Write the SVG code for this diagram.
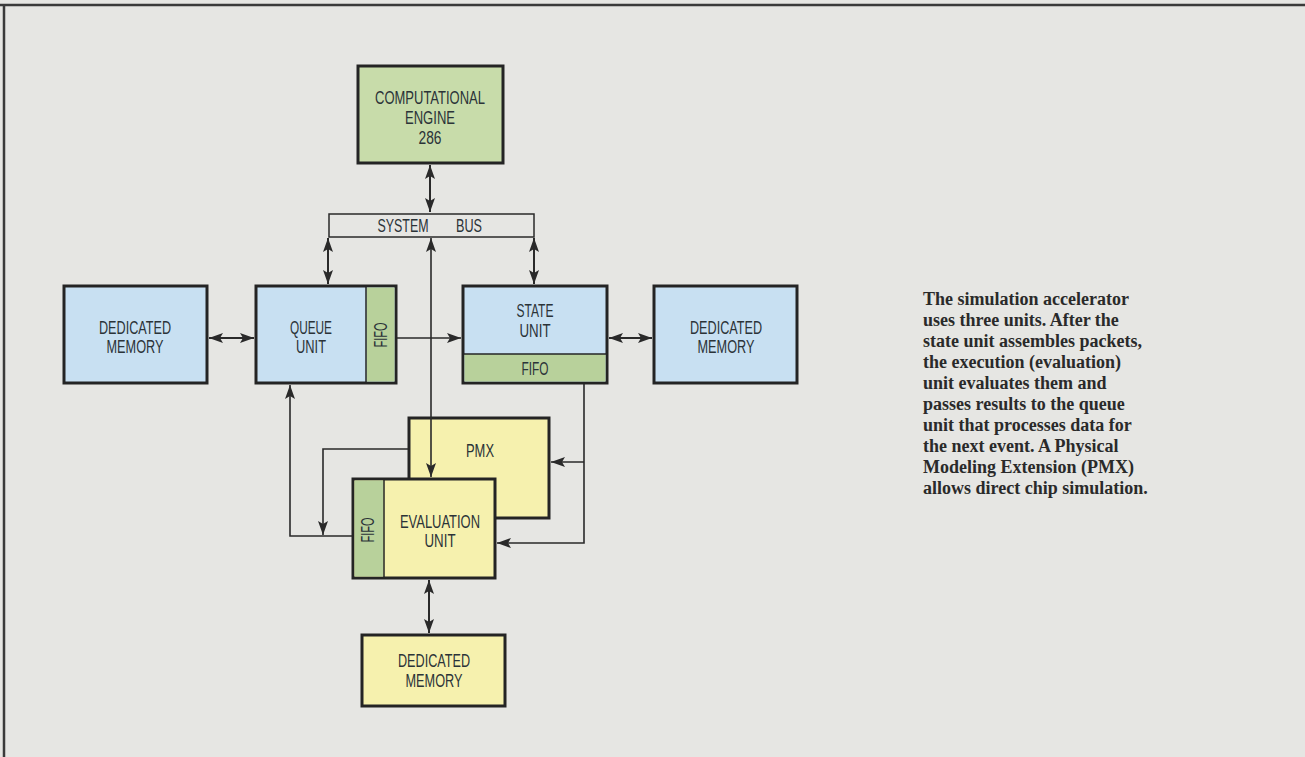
<svg xmlns="http://www.w3.org/2000/svg" width="1305" height="757" viewBox="0 0 1305 757">
<style>
.bx{stroke:#242424;stroke-width:3}
.blue{fill:#c8e0f2}
.grn{fill:#c8dcaa}
.fifo{fill:#b8d19b}
.yel{fill:#f6f1ae}
.sep{stroke:#242424;stroke-width:1.5;fill:none}
.t{font-family:"Liberation Sans",Arial,sans-serif;font-size:18px;fill:#2b3338;text-anchor:middle}
.c{stroke:#2a2a2a;stroke-width:1.6;fill:none}
.d{stroke:#2a2a2a;stroke-width:2;fill:none}
.cap{font-family:"Liberation Serif","Times New Roman",serif;font-weight:bold;font-size:18px;fill:#2a2a2a}
</style>
<defs>
<marker id="ah" viewBox="0 0 14 10" refX="14" refY="5" markerWidth="14" markerHeight="10" markerUnits="userSpaceOnUse" orient="auto-start-reverse">
<path d="M0,0 L14,5 L0,10 L3,5 z" fill="#2a2a2a"/>
</marker>
</defs>
<rect x="0" y="0" width="1305" height="757" fill="#e6e6e3"/>
<path d="M0,5 H1305 M4,5 V757" stroke="#3a3a3a" stroke-width="2.5" fill="none"/>

<g id="engine">
<rect class="bx grn" x="358" y="66" width="145" height="97"/>
<text class="t" x="430" y="104" textLength="110" lengthAdjust="spacingAndGlyphs">COMPUTATIONAL</text>
<text class="t" x="430" y="124" textLength="50" lengthAdjust="spacingAndGlyphs">ENGINE</text>
<text class="t" x="430" y="144" textLength="23" lengthAdjust="spacingAndGlyphs">286</text>
</g>

<g id="systembus">
<rect x="329" y="214" width="205" height="23" fill="none" stroke="#2a2a2a" stroke-width="1.5"/>
<text class="t" x="403" y="232" textLength="51" lengthAdjust="spacingAndGlyphs">SYSTEM</text>
<text class="t" x="469" y="232" textLength="26" lengthAdjust="spacingAndGlyphs">BUS</text>
</g>

<g id="dm-left">
<rect class="bx blue" x="64" y="286" width="143" height="97"/>
<text class="t" x="135" y="334" textLength="72" lengthAdjust="spacingAndGlyphs">DEDICATED</text>
<text class="t" x="135" y="353" textLength="57" lengthAdjust="spacingAndGlyphs">MEMORY</text>
</g>

<g id="queue">
<rect class="bx blue" x="256" y="286" width="140" height="97"/>
<rect class="fifo" x="366.5" y="287.5" width="28" height="94"/>
<line class="sep" x1="366" y1="287" x2="366" y2="382"/>
<text class="t" x="311" y="334" textLength="42" lengthAdjust="spacingAndGlyphs">QUEUE</text>
<text class="t" x="311" y="353" textLength="30" lengthAdjust="spacingAndGlyphs">UNIT</text>
<text class="t" transform="translate(387,335) rotate(-90)" x="0" y="0" textLength="25" lengthAdjust="spacingAndGlyphs">FIFO</text>
</g>

<g id="state">
<rect class="bx blue" x="463" y="286" width="144" height="97"/>
<rect class="fifo" x="464.5" y="354" width="141" height="27.5"/>
<line class="sep" x1="464" y1="354" x2="606" y2="354"/>
<text class="t" x="535" y="317" textLength="37" lengthAdjust="spacingAndGlyphs">STATE</text>
<text class="t" x="535" y="337" textLength="31" lengthAdjust="spacingAndGlyphs">UNIT</text>
<text class="t" x="535" y="375" textLength="27" lengthAdjust="spacingAndGlyphs">FIFO</text>
</g>

<g id="dm-right">
<rect class="bx blue" x="654" y="286" width="143" height="97"/>
<text class="t" x="726" y="334" textLength="72" lengthAdjust="spacingAndGlyphs">DEDICATED</text>
<text class="t" x="726" y="353" textLength="57" lengthAdjust="spacingAndGlyphs">MEMORY</text>
</g>

<g id="pmx">
<rect class="bx yel" x="409" y="418" width="140" height="100"/>
<text class="t" x="480" y="457" textLength="28" lengthAdjust="spacingAndGlyphs">PMX</text>
</g>

<g id="evaluation">
<rect class="bx yel" x="353" y="479" width="142" height="99"/>
<rect class="fifo" x="354.5" y="480.5" width="29" height="96"/>
<line class="sep" x1="384" y1="480" x2="384" y2="577"/>
<text class="t" x="440" y="528" textLength="80" lengthAdjust="spacingAndGlyphs">EVALUATION</text>
<text class="t" x="440" y="547" textLength="31" lengthAdjust="spacingAndGlyphs">UNIT</text>
<text class="t" transform="translate(374,530) rotate(-90)" x="0" y="0" textLength="25" lengthAdjust="spacingAndGlyphs">FIFO</text>
</g>

<g id="dm-bottom">
<rect class="bx yel" x="362" y="635" width="143" height="71"/>
<text class="t" x="434" y="667" textLength="72" lengthAdjust="spacingAndGlyphs">DEDICATED</text>
<text class="t" x="434" y="687" textLength="57" lengthAdjust="spacingAndGlyphs">MEMORY</text>
</g>

<g id="connectors">
<path class="d" d="M430,165 V212" marker-start="url(#ah)" marker-end="url(#ah)"/>
<path class="d" d="M328,238 V284" marker-start="url(#ah)" marker-end="url(#ah)"/>
<path class="d" d="M534,238 V284" marker-start="url(#ah)" marker-end="url(#ah)"/>
<path class="c" d="M431,238 V477" marker-start="url(#ah)" marker-end="url(#ah)"/>
<path class="d" d="M209,338 H254" marker-start="url(#ah)" marker-end="url(#ah)"/>
<path class="c" d="M397,338 H461" marker-end="url(#ah)"/>
<path class="d" d="M609,338 H652" marker-start="url(#ah)" marker-end="url(#ah)"/>
<path class="c" d="M584,384 V543 H497" marker-end="url(#ah)"/>
<path class="c" d="M584,462 H551" marker-end="url(#ah)"/>
<path class="c" d="M352,536 H290 V385" marker-end="url(#ah)"/>
<path class="c" d="M408,449 H323 V535" marker-end="url(#ah)"/>
<path class="d" d="M429,580 V633" marker-start="url(#ah)" marker-end="url(#ah)"/>
</g>

<g id="caption" class="cap">
<text x="923" y="305">The simulation accelerator</text>
<text x="923" y="326">uses three units. After the</text>
<text x="923" y="347">state unit assembles packets,</text>
<text x="923" y="368">the execution (evaluation)</text>
<text x="923" y="389">unit evaluates them and</text>
<text x="923" y="410">passes results to the queue</text>
<text x="923" y="431">unit that processes data for</text>
<text x="923" y="452">the next event. A Physical</text>
<text x="923" y="473">Modeling Extension (PMX)</text>
<text x="923" y="494">allows direct chip simulation.</text>
</g>
</svg>
